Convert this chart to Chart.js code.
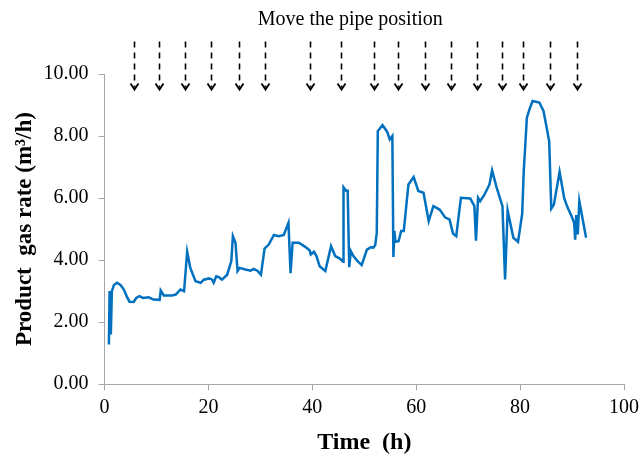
<!DOCTYPE html>
<html>
<head>
<meta charset="utf-8">
<script src="https://cdn.jsdelivr.net/npm/chart.js@4/dist/chart.umd.min.js"></script>
<style>
  html, body { margin: 0; padding: 0; background: #ffffff; }
  #wrap { width: 640px; height: 460px; }
</style>
</head>
<body>
<div id="wrap"><canvas id="gasChart" width="640" height="460"></canvas></div>
<script>
// Tempo (h) e vazão de gás produto (m3/h)
const timeH = [
  0.83, 0.96, 1.2, 1.4, 1.8, 2.4, 3.1, 3.7, 4.4, 4.8, 5.6, 6.1, 6.7, 7.4, 8.5, 9.4,
  10.6, 10.8, 11.4, 13.0, 13.7, 14.6, 15.3, 15.9, 16.5, 17.5, 18.5, 19.1, 20.1, 20.7,
  21.0, 21.5, 22.0, 22.6, 23.6, 24.4, 24.7, 25.2, 25.6, 26.0, 27.1, 28.1, 28.7, 29.4,
  30.1, 30.8, 31.6, 32.6, 33.5, 34.5, 35.4, 35.8, 36.2, 37.4, 38.7, 39.5, 39.7, 40.3,
  40.8, 41.4, 42.5, 43.6, 44.4, 45.3, 45.9, 46.0, 46.5, 46.8, 47.1, 47.4, 47.9, 48.7,
  49.5, 50.5, 51.3, 51.7, 52.1, 52.4, 52.6, 53.5, 54.4, 54.9, 55.4, 55.6, 55.8, 56.0,
  56.6, 57.1, 57.6, 58.5, 59.5, 60.4, 61.4, 62.4, 63.3, 64.5, 65.6, 66.4, 67.1, 67.7,
  68.6, 70.4, 71.2, 71.5, 71.9, 72.3, 73.1, 74.1, 74.6, 75.5, 76.6, 77.1, 77.6, 78.7,
  79.6, 80.4, 80.7, 81.3, 81.8, 82.4, 83.7, 84.5, 85.0, 85.6, 86.0, 86.5, 87.6, 88.5,
  89.1, 89.9, 90.4, 90.6, 90.8, 91.1, 91.4, 92.7
];
const gasRate = [
  1.28, 3.0, 1.6, 3.0, 3.2, 3.27, 3.19, 3.05, 2.78, 2.66, 2.65, 2.78, 2.84, 2.78, 2.8, 2.73,
  2.72, 3.02, 2.86, 2.86, 2.89, 3.05, 3.0, 4.27, 3.75, 3.32, 3.27, 3.37, 3.41, 3.37,
  3.27, 3.48, 3.45, 3.37, 3.53, 3.97, 4.77, 4.56, 3.65, 3.75, 3.70, 3.66, 3.72, 3.66,
  3.53, 4.37, 4.5, 4.81, 4.77, 4.81, 5.2, 3.58, 4.56, 4.56, 4.42, 4.31, 4.18, 4.27,
  4.13, 3.8, 3.65, 4.45, 4.13, 4.05, 3.95, 6.35, 6.24, 6.24, 3.77, 4.29, 4.13, 3.97,
  3.84, 4.34, 4.42, 4.4, 4.48, 4.88, 8.16, 8.35, 8.14, 7.89, 8.0, 4.1, 4.94, 4.59,
  4.61, 4.94, 4.94, 6.44, 6.68, 6.23, 6.17, 5.26, 5.74, 5.63, 5.37, 5.31, 4.85, 4.77,
  6.01, 5.99, 5.74, 4.63, 6.01, 5.9, 6.1, 6.44, 6.89, 6.33, 5.74, 3.38, 5.6, 4.72,
  4.59, 5.5, 6.87, 8.59, 8.86, 9.13, 9.08, 8.81, 8.37, 7.82, 5.66, 5.79, 6.85, 5.99,
  5.71, 5.42, 5.2, 4.66, 5.45, 4.83, 5.9, 4.72
];
// Instantes em que o tubo foi movido (h)
const pipeMoves = [5.6, 10.5, 15.4, 20.4, 25.8, 30.8, 39.5, 45.6, 51.8, 56.5, 61.7, 66.6, 71.7, 76.6, 80.5, 85.7, 90.9];
// Extensão vertical das setas, em unidades do eixo y
const arrowSpan = [11.05, 9.5];
const noteText = 'Move the pipe position';
const noteAt = [47.3, 11.75]; // centro do texto (h, m3/h)

const xTicks = [0, 20, 40, 60, 80, 100];
const yTicks = [0, 2, 4, 6, 8, 10];

const axisGray = '#A6A6A6';
const serif = '"Liberation Serif", "Times New Roman", serif';

// Plugin que desenha as setas tracejadas e o texto acima do gráfico
const pipeArrows = {
    id: 'pipeArrows',
    afterDraw(chart) {
        const { ctx, scales: { x, y } } = chart;
        const yTop = y.getPixelForValue(arrowSpan[0]);
        const yTip = y.getPixelForValue(arrowSpan[1]);
        ctx.save();
        ctx.strokeStyle = '#000000';
        pipeMoves.forEach(t => {
            const px = Math.round(x.getPixelForValue(t)) + 0.5;
            ctx.lineWidth = 1.6;
            ctx.setLineDash([6, 5]);
            ctx.beginPath();
            ctx.moveTo(px, yTop);
            ctx.lineTo(px, yTip - 2);
            ctx.stroke();
            ctx.setLineDash([]);
            ctx.lineWidth = 1.8;
            ctx.beginPath();
            ctx.moveTo(px - 4, yTip - 6);
            ctx.lineTo(px, yTip);
            ctx.lineTo(px + 4, yTip - 6);
            ctx.stroke();
        });
        ctx.fillStyle = '#000000';
        ctx.font = '20px ' + serif;
        ctx.textAlign = 'center';
        ctx.textBaseline = 'middle';
        ctx.fillText(noteText, x.getPixelForValue(noteAt[0]), y.getPixelForValue(noteAt[1]));
        ctx.restore();
    }
};

const points = timeH.map((t, i) => ({ x: t, y: gasRate[i] }));

new Chart(document.getElementById('gasChart'), {
    type: 'line',
    data: {
        datasets: [{
            data: points,
            borderColor: '#0070C0',
            borderWidth: 2.5,
            pointRadius: 0,
            tension: 0,
            fill: false
        }]
    },
    options: {
        responsive: false,
        animation: false,
        layout: { padding: { top: 74, left: 11, right: 0, bottom: 3 } },
        plugins: {
            legend: { display: false },
            tooltip: { enabled: false }
        },
        scales: {
            x: {
                type: 'linear',
                min: 0,
                max: 100,
                afterBuildTicks: axis => { axis.ticks = xTicks.map(v => ({ value: v })); },
                afterFit: axis => { axis.paddingRight = 16; },
                grid: { drawOnChartArea: false, color: axisGray, tickLength: 6 },
                border: { color: axisGray },
                ticks: { color: '#000000', font: { family: serif, size: 20 }, padding: 6, maxRotation: 0 },
                title: {
                    display: true,
                    text: 'Time  (h)',
                    color: '#000000',
                    font: { family: serif, size: 24, weight: 'bold' },
                    padding: { top: 2, bottom: 0 }
                }
            },
            y: {
                min: 0,
                max: 10,
                afterBuildTicks: axis => { axis.ticks = yTicks.map(v => ({ value: v })); },
                grid: { drawOnChartArea: false, color: axisGray, tickLength: 6 },
                border: { color: axisGray },
                ticks: {
                    color: '#000000',
                    font: { family: serif, size: 20 },
                    padding: 10,
                    callback: v => v.toFixed(2)
                },
                title: {
                    display: true,
                    text: 'Product  gas rate (m³/h)',
                    color: '#000000',
                    font: { family: serif, size: 23, weight: 'bold' },
                    padding: { top: 0, bottom: -5 }
                }
            }
        }
    },
    plugins: [pipeArrows]
});
</script>
</body>
</html>
